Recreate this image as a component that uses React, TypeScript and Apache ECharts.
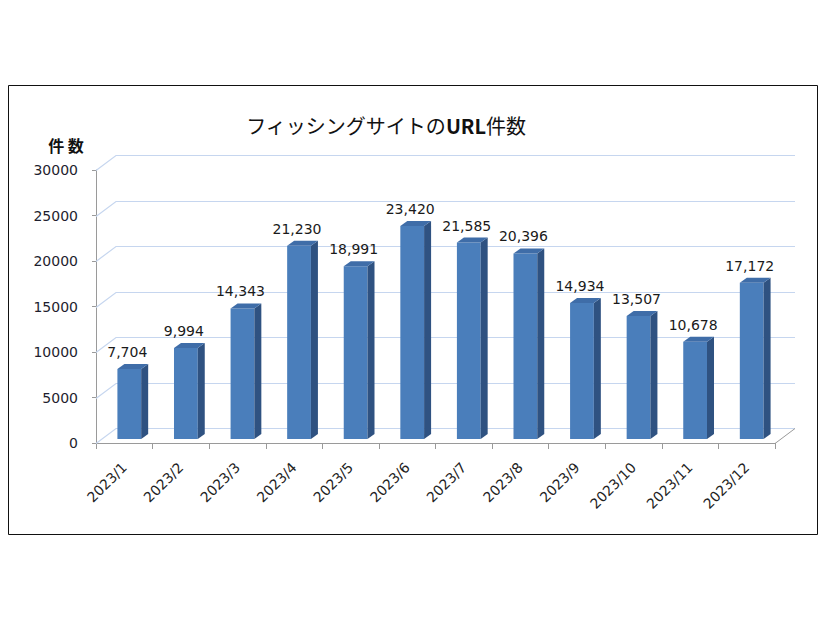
import React, { useEffect, useRef } from "react";
import * as echarts from "echarts";

const categories = [
  "2023/1", "2023/2", "2023/3", "2023/4", "2023/5", "2023/6",
  "2023/7", "2023/8", "2023/9", "2023/10", "2023/11", "2023/12",
];
const counts = [7704, 9994, 14343, 21230, 18991, 23420, 21585, 20396, 14934, 13507, 10678, 17172];
const yTicks = [0, 5000, 10000, 15000, 20000, 25000, 30000];
const yAxisName = "件 数";

// 3D depth offsets
const DX = 20;
const DY = -15;
const BAR_OFF_X = 5;
const BAR_OFF_Y = -4;
const BAR_DX = 7;
const BAR_DY = -5;

export default function App() {
  const ref = useRef<HTMLDivElement>(null);
  useEffect(() => {
    if (!ref.current) return;
    const chart = echarts.init(ref.current, null, { renderer: "svg" });
    const n = categories.length;
    const option: any = {
      animation: false,
      backgroundColor: "#ffffff",
      grid: { left: 96, right: 51, top: 170, bottom: 177, containLabel: false },
      xAxis: {
        type: "category",
        data: categories,
        boundaryGap: true,
        axisLine: { show: true, lineStyle: { color: "#9a9a9a", width: 1 } },
        axisTick: { show: true, length: 6, alignWithLabel: false, lineStyle: { color: "#9a9a9a" } },
        axisLabel: {
          interval: 0,
          rotate: 45,
          margin: 22,
          fontFamily: "DejaVu Sans",
          fontSize: 14,
          color: "#222222",
        },
        splitLine: { show: false },
      },
      yAxis: {
        type: "value",
        min: 0,
        max: 30000,
        interval: 5000,
        axisLine: { show: true, lineStyle: { color: "#9a9a9a", width: 1 } },
        axisTick: { show: true, length: 4, lineStyle: { color: "#9a9a9a" } },
        axisLabel: {
          margin: 18,
          fontFamily: "DejaVu Sans",
          fontSize: 14,
          color: "#1e1e2e",
          formatter: (v: number) => String(v),
        },
        splitLine: { show: false },
      },
      graphic: [
        {
          type: "rect",
          shape: { x: 8.5, y: 85.5, width: 809, height: 449 },
          style: { fill: "none", stroke: "#111111", lineWidth: 1 },
          silent: true,
          z: 0,
        },
        {
          type: "text",
          x: 386,
          y: 125,
          style: {
            text: "{a|フィッシングサイトの}{b|URL}{a|件数}",
            align: "center",
            verticalAlign: "middle",
            rich: {
              a: { fontFamily: "Noto Sans CJK JP", fontSize: 20, fill: "#111111" },
              b: { fontFamily: "Noto Sans CJK JP", fontSize: 20, fontWeight: "bold", fill: "#111111" },
            },
          },
          silent: true,
        },
        {
          type: "text",
          x: 66,
          y: 145,
          style: {
            text: yAxisName,
            align: "center",
            verticalAlign: "middle",
            fontFamily: "Noto Sans CJK JP",
            fontSize: 16,
            fontWeight: "bold",
            fill: "#111111",
          },
          silent: true,
        },
      ],
      series: [
        {
          type: "custom",
          z: 1,
          silent: true,
          data: yTicks.map((v) => [0, v]),
          renderItem: (params: any, api: any) => {
            const v = api.value(1);
            const p = api.coord([0, v]);
            const bw = api.size([1, 0])[0];
            const xL = p[0] - bw / 2;
            const pR = api.coord([n - 1, v]);
            const xR = pR[0] + bw / 2;
            const y = Math.round(p[1]) + 0.5;
            const children: any[] = [
              {
                type: "polyline",
                shape: { points: [[xL, y], [xL + DX, y + DY], [xR + DX, y + DY]] },
                style: { stroke: "#c6d6ef", lineWidth: 1.2, fill: null },
              },
            ];
            if (v === 0) {
              children.push({
                type: "line",
                shape: { x1: xR, y1: y, x2: xR + DX, y2: y + DY },
                style: { stroke: "#9a9a9a", lineWidth: 1 },
              });
            }
            return { type: "group", children };
          },
        },
        {
          type: "custom",
          z: 3,
          silent: true,
          data: counts.map((v, i) => [i, v]),
          renderItem: (params: any, api: any) => {
            const i = api.value(0);
            const v = api.value(1);
            const base = api.coord([i, 0]);
            const top = api.coord([i, v]);
            const bw = api.size([1, 0])[0];
            const w = bw * 0.42;
            const cx = base[0] + BAR_OFF_X;
            const x1 = cx - w / 2;
            const x2 = cx + w / 2;
            const yb = base[1] + BAR_OFF_Y;
            const yt = top[1] + BAR_OFF_Y;
            return {
              type: "group",
              children: [
                {
                  type: "rect",
                  shape: { x: x1, y: yt, width: w, height: yb - yt },
                  style: { fill: "#4a7ebb" },
                },
                {
                  type: "polygon",
                  shape: { points: [[x2, yt], [x2 + BAR_DX, yt + BAR_DY], [x2 + BAR_DX, yb + BAR_DY], [x2, yb]] },
                  style: { fill: "#2f5281" },
                },
                {
                  type: "polygon",
                  shape: { points: [[x1, yt], [x2, yt], [x2 + BAR_DX, yt + BAR_DY], [x1 + BAR_DX, yt + BAR_DY]] },
                  style: { fill: "#3f6da8" },
                },
                {
                  type: "text",
                  x: cx - 2,
                  y: yt - 17,
                  style: {
                    text: echarts.format.addCommas(v),
                    align: "center",
                    verticalAlign: "middle",
                    fontFamily: "DejaVu Sans",
                    fontSize: 14,
                    fill: "#1a1a1a",
                  },
                },
              ],
            };
          },
        },
      ],
    };
    chart.setOption(option);
    return () => chart.dispose();
  }, []);
  return (
    <div
      ref={ref}
      style={{ position: "fixed", left: 0, top: 0, width: 826, height: 620, background: "#fff" }}
    />
  );
}
